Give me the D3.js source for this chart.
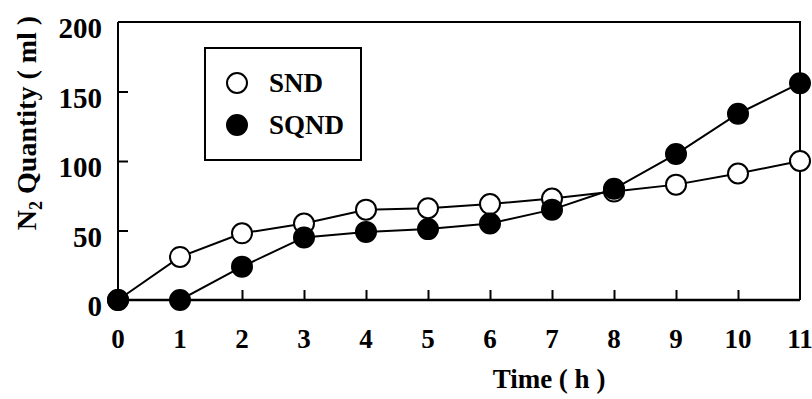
<!DOCTYPE html>
<html>
<head>
<meta charset="utf-8">
<script src="https://cdn.jsdelivr.net/npm/d3@7"></script>
<style>
  html, body { margin: 0; padding: 0; background: #fff; }
  svg { display: block; }
</style>
</head>
<body>
<svg id="chart" width="812" height="399"></svg>
<script>
// Time points (h)
const hours = [0, 1, 2, 3, 4, 5, 6, 7, 8, 9, 10, 11];
// N2 produced (ml)
const sndValues = [0, 31, 48, 55, 65, 66, 69, 73, 78, 83, 91, 100];
const sqndValues = [0, 0, 24, 45, 49, 51, 55, 65, 80, 105, 134, 156];
const yTicks = [0, 50, 100, 150, 200];
const seriesNames = ["SND", "SQND"];

const serif = "'Liberation Serif', 'Times New Roman', Times, 'DejaVu Serif', serif";

const svg = d3.select("#chart")
  .attr("font-family", serif)
  .attr("font-weight", "bold");
const plotLeft = 118, plotRight = 800, plotTop = 22, plotBottom = 300;

const x = d3.scaleLinear().domain([0, 11]).range([plotLeft, plotRight]);
const y = d3.scaleLinear().domain([0, 200]).range([plotBottom, plotTop]);

// Frame: top and right edges
svg.append("path")
  .attr("d", `M${plotLeft},${plotTop}H${plotRight}V${plotBottom}`)
  .attr("fill", "none").attr("stroke", "#000").attr("stroke-width", 2);

// Bottom axis with inward ticks
const xAxis = d3.axisBottom(x).tickValues(hours.slice(1, 11)).tickSize(-10).tickFormat("");
const gx = svg.append("g").attr("transform", `translate(0,${plotBottom})`).call(xAxis);
gx.select(".domain").attr("d", `M${plotLeft},0H${plotRight}`).attr("stroke-width", 2.5);
gx.selectAll(".tick line").attr("stroke-width", 2);

// Left axis with inward ticks
const yAxis = d3.axisLeft(y).tickValues(yTicks.slice(1, 4)).tickSize(-10).tickFormat("");
const gy = svg.append("g").attr("transform", `translate(${plotLeft},0)`).call(yAxis);
gy.select(".domain").attr("d", `M0,${plotBottom}V${plotTop}`).attr("stroke-width", 2);
gy.selectAll(".tick line").attr("stroke-width", 2);

// Text layer
const labels = svg.append("g")
  .style("font-family", serif).style("font-weight", "bold").attr("fill", "#000");

// Tick labels
labels.append("g").selectAll("text").data(hours).join("text")
  .attr("x", d => x(d)).attr("y", plotBottom + 48)
  .attr("text-anchor", "middle").attr("font-size", 27)
  .text(d => d);

labels.append("g").selectAll("text").data(yTicks).join("text")
  .attr("x", plotLeft - 16).attr("y", d => y(d) + 16)
  .attr("text-anchor", "end").attr("font-size", 29)
  .text(d => d);

// Axis titles
labels.append("text")
  .attr("x", 549).attr("y", 388)
  .attr("text-anchor", "middle").attr("font-size", 27)
  .text("Time ( h )");

const yTitle = labels.append("text")
  .attr("transform", "translate(36,123) rotate(-90)")
  .attr("text-anchor", "middle").attr("font-size", 28);
yTitle.append("tspan").text("N");
yTitle.append("tspan").attr("font-size", 18).attr("dy", 6).text("2");
yTitle.append("tspan").attr("dy", -6).text(" Quantity ( ml )");

// Series
const line = d3.line().x((d, i) => x(hours[i])).y(d => y(d));
const series = [
  { name: seriesNames[0], values: sndValues, fill: "#fff" },
  { name: seriesNames[1], values: sqndValues, fill: "#000" }
];

series.forEach(s => {
  svg.append("path").datum(s.values)
    .attr("d", line).attr("fill", "none")
    .attr("stroke", "#000").attr("stroke-width", 2);
  svg.append("g").selectAll("circle").data(s.values).join("circle")
    .attr("cx", (d, i) => x(hours[i])).attr("cy", d => y(d))
    .attr("r", 10).attr("fill", s.fill)
    .attr("stroke", "#000").attr("stroke-width", 2);
});

// Legend
const legend = svg.append("g");
legend.append("rect")
  .attr("x", 205).attr("y", 48).attr("width", 156).attr("height", 112)
  .attr("fill", "#fff").attr("stroke", "#000").attr("stroke-width", 2);
series.forEach((s, i) => {
  const cy = 83 + i * 42;
  legend.append("circle")
    .attr("cx", 237).attr("cy", cy).attr("r", 10)
    .attr("fill", s.fill).attr("stroke", "#000").attr("stroke-width", 2);
  legend.append("text")
    .attr("x", 269).attr("y", cy + 9).attr("font-size", 27)
    .style("font-family", serif).style("font-weight", "bold")
    .text(s.name);
});
</script>
</body>
</html>
